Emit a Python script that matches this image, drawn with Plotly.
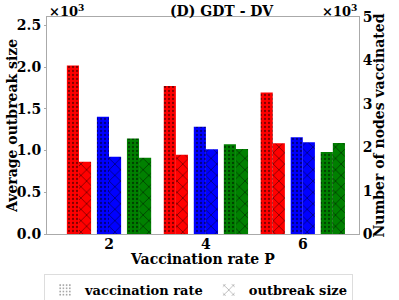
import plotly.graph_objects as go

# Data (values in thousands)
categories = [2, 4, 6]
colors = ["#ff0000", "#0000ff", "#008000"]
# vaccination rate (number of nodes vaccinated, right axis, x10^3)
vacc_red = [3.88, 3.41, 3.26]
vacc_blue = [2.70, 2.47, 2.23]
vacc_green = [2.20, 2.07, 1.89]
# outbreak size (left axis, x10^3)
out_red = [0.866, 0.95, 1.087]
out_blue = [0.926, 1.015, 1.10]
out_green = [0.914, 1.018, 1.09]
left_ticks = [0.0, 0.5, 1.0, 1.5, 2.0, 2.5]
right_ticks = [0, 1, 2, 3, 4, 5]

FONT = "DejaVu Serif"
W = 0.25
pair_offsets = [-0.87, -0.25, 0.37]

L, R, T, B = 47, 40, 17, 66
PW, PH = 399 - L - R, 300 - T - B

def px(xp):
    return (xp - L) / PW

def py(yp):
    return (300 - B - yp) / PH

dot_pat = dict(shape=".", fgcolor="black", size=4, solidity=0.25)
x_pat = dict(shape="x", fgcolor="black", size=8, solidity=0.2)

fig = go.Figure()
vacc = [vacc_red, vacc_blue, vacc_green]
outb = [out_red, out_blue, out_green]
for i in range(3):
    fig.add_trace(go.Bar(
        x=categories, y=vacc[i], yaxis="y2", width=W, offset=pair_offsets[i],
        marker=dict(color=colors[i], line=dict(width=0), pattern=dot_pat),
        showlegend=False, hoverinfo="skip"))
    fig.add_trace(go.Bar(
        x=categories, y=outb[i], yaxis="y", width=W, offset=pair_offsets[i] + W,
        marker=dict(color=colors[i], line=dict(width=0), pattern=x_pat),
        showlegend=False, hoverinfo="skip"))

# legend entries
fig.add_trace(go.Bar(x=[None], y=[None], name="<b>vaccination rate</b>",
                     marker=dict(color="white", line=dict(width=0),
                                 pattern=dict(dot_pat, fgcolor="#444", bgcolor="white"))))
fig.add_trace(go.Bar(x=[None], y=[None], name="<b>outbreak size</b>",
                     marker=dict(color="white", line=dict(width=0),
                                 pattern=dict(x_pat, fgcolor="#444", bgcolor="white"))))

axis_font = dict(family=FONT, size=14, color="black")
fig.update_layout(
    width=399, height=300,
    margin=dict(l=L, r=R, t=T, b=B, autoexpand=False),
    plot_bgcolor="white", paper_bgcolor="white",
    barmode="overlay",
    font=dict(family=FONT, color="black"),
    xaxis=dict(range=[0.72, 7.16], tickvals=categories, ticktext=[f"<b>{c}</b>" for c in categories],
               tickfont=axis_font, showline=True, linecolor="#aaaaaa", linewidth=1, mirror=True,
               ticks="", ticklabelstandoff=-3, showgrid=False, zeroline=False, automargin=False),
    yaxis=dict(range=[0, 2.6], tickvals=left_ticks, ticktext=[f"<b>{v:.1f}</b>" for v in left_ticks],
               tickfont=axis_font, showline=True, linecolor="#aaaaaa", linewidth=1,
               ticks="outside", ticklen=2, tickcolor="#aaaaaa", showgrid=False, zeroline=False,
               automargin=False),
    yaxis2=dict(range=[0, 5], overlaying="y", side="right", tickvals=right_ticks,
                ticktext=[f"<b>{v}</b>" for v in right_ticks], tickfont=axis_font,
                showline=True, linecolor="#aaaaaa", linewidth=1,
                ticks="", showgrid=False, zeroline=False, automargin=False),
    legend=dict(orientation="h", x=px(198.5), xanchor="center", y=py(274), yanchor="top",
                bordercolor="#dddddd", borderwidth=1, font=dict(family=FONT, size=13, color="black"),
                itemwidth=30),
    showlegend=True,
)
ann_font = dict(family=FONT, size=14, color="black")
fig.add_annotation(text="<b>(D) GDT - DV</b>", x=px(222), y=py(11), xref="paper", yref="paper",
                   xanchor="center", yanchor="middle", showarrow=False, font=ann_font)
fig.add_annotation(text="<b>Vaccination rate P</b>", x=px(202.5), y=py(259), xref="paper", yref="paper",
                   xanchor="center", yanchor="middle", showarrow=False, font=ann_font)
fig.add_annotation(text="<b>Average outbreak size</b>", x=px(12), y=py(126), xref="paper", yref="paper",
                   xanchor="center", yanchor="middle", showarrow=False, textangle=-90, font=ann_font)
fig.add_annotation(text="<b>Number of nodes vaccinated</b>", x=px(378.5), y=py(126), xref="paper", yref="paper",
                   xanchor="center", yanchor="middle", showarrow=False, textangle=-90, font=ann_font)
fig.add_annotation(text="<b>×10<sup>3</sup></b>", x=px(47), y=py(11), xref="paper", yref="paper",
                   xanchor="left", yanchor="middle", showarrow=False, font=dict(family=FONT, size=13, color="black"))
fig.add_annotation(text="<b>×10<sup>3</sup></b>", x=px(359), y=py(11), xref="paper", yref="paper",
                   xanchor="right", yanchor="middle", showarrow=False, font=dict(family=FONT, size=13, color="black"))
fig.write_html("out.html", config={"displayModeBar": False},
               post_script="document.body.style.margin='0';document.body.style.overflow='hidden';")
